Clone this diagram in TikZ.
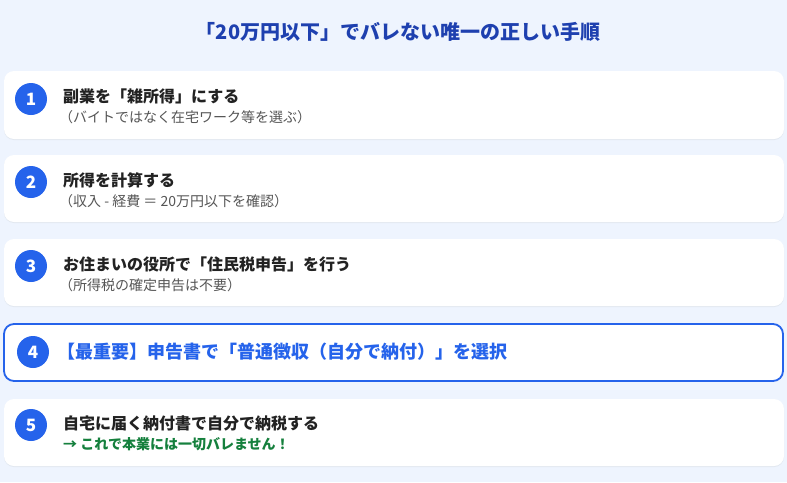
\documentclass[tikz,border=0pt]{standalone}
\usepackage{fontspec}
\setmainfont{Noto Sans CJK JP}
\newfontfamily\cjk{Noto Sans CJK JP}
\definecolor{bgc}{HTML}{EEF4FE}
\definecolor{titlec}{HTML}{1E40AF}
\definecolor{bluec}{HTML}{2563EB}
\definecolor{darkc}{HTML}{222222}
\definecolor{grayc}{HTML}{555555}
\definecolor{greenc}{HTML}{15803D}
\definecolor{shadowc}{HTML}{E2E8F0}
\tikzset{
  card/.style={fill=white, rounded corners=10pt},
  cardshadow/.style={fill=shadowc, rounded corners=10pt},
  numc/.style={circle, fill=bluec, minimum size=32pt, inner sep=0pt, text=white, font=\cjk\bfseries\fontsize{17}{20}\selectfont},
  mainl/.style={anchor=west, inner sep=0pt, text=darkc, font=\cjk\bfseries\fontsize{16}{19}\selectfont},
  subl/.style={anchor=west, inner sep=0pt, text=grayc, font=\cjk\fontsize{14}{17}\selectfont},
}
\begin{document}
\begin{tikzpicture}[x=1pt,y=-1pt]
\useasboundingbox (0,0) rectangle (787,482);
\fill[bgc] (0,0) rectangle (787,482);
\node[text=titlec, font=\cjk\bfseries\fontsize{20}{23}\selectfont] (title) at (398,32) {「20万円以下」でバレない唯一の正しい手順};
% card 1
\fill[cardshadow] (4,72) rectangle (784,140);
\fill[card] (4,71) rectangle (784,139);
\node[numc] (n1) at (31,99) {1};
\node[mainl] (m1) at (63,96) {副業を「雑所得」にする};
\node[subl] (s1) at (59,117) {（バイトではなく在宅ワーク等を選ぶ）};
% card 2
\fill[cardshadow] (4,156) rectangle (784,223);
\fill[card] (4,155) rectangle (784,222);
\node[numc] (n2) at (31,182) {2};
\node[mainl] (m2) at (63,180) {所得を計算する};
\node[subl] (s2) at (59,201) {（収入 - 経費 ＝ 20万円以下を確認）};
% card 3
\fill[cardshadow] (4,240) rectangle (784,307);
\fill[card] (4,239) rectangle (784,306);
\node[numc] (n3) at (31,266) {3};
\node[mainl] (m3) at (63,264) {お住まいの役所で「住民税申告」を行う};
\node[subl] (s3) at (59,285) {（所得税の確定申告は不要）};
% card 4
\draw[card, draw=bluec, line width=1.8pt] (4,324) rectangle (783,381);
\node[numc] (n4) at (33,352) {4};
\node[mainl, text=bluec, font=\cjk\bfseries\fontsize{18}{21}\selectfont] (m4) at (57,352) {【最重要】申告書で「普通徴収（自分で納付）」を選択};
% card 5
\fill[cardshadow] (4,400) rectangle (784,467);
\fill[card] (4,399) rectangle (784,466);
\node[numc] (n5) at (31,425) {5};
\node[mainl] (m5) at (63,423) {自宅に届く納付書で自分で納税する};
\node[subl, text=greenc, font=\cjk\bfseries\fontsize{14}{17}\selectfont] (s5) at (63,444) {→ これで本業には一切バレません！};
\end{tikzpicture}
\end{document}
